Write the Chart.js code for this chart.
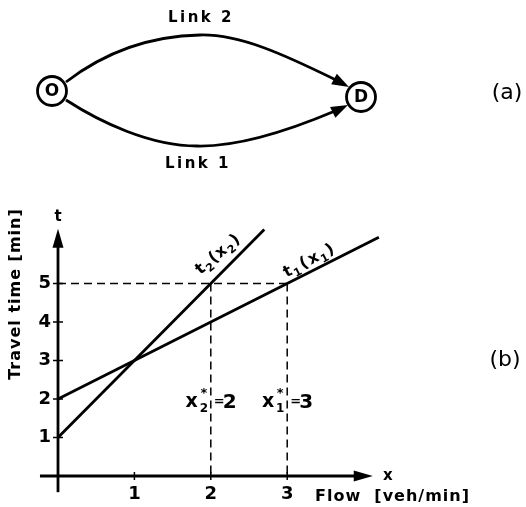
<!DOCTYPE html>
<html>
<head>
<meta charset="utf-8">
<script src="https://cdn.jsdelivr.net/npm/chart.js@4/dist/chart.umd.min.js"></script>
<style>
  html, body { margin: 0; padding: 0; background: #fff; }
  canvas { display: block; }
</style>
</head>
<body>
<canvas id="c" width="526" height="507"></canvas>
<script>
// Link cost functions: travel time t (min) against flow x (veh/min)
const flow1 = [0, 1, 2, 3, 4.2];
const time1 = [2, 3, 4, 5, 6.2];
const flow2 = [0, 1, 2, 2.7];
const time2 = [1, 3, 5, 6.4];

// Equilibrium: both links carry travel time 5 min
const eqFlow = [2, 3];          // x2*, x1*
const eqTime = 5;

// Axis ticks
const xTicks = [1, 2, 3];
const yTicks = [1, 2, 3, 4, 5];

// Two-link network
const nodes = ['O', 'D'];
const links = ['Link 1', 'Link 2'];

const FONT = '"DejaVu Sans", sans-serif';
const pts = (xs, ys) => xs.map((x, i) => ({ x, y: ys[i] }));

const solid = { borderColor: '#000', borderWidth: 2.8, pointRadius: 0, tension: 0, fill: false };
const dashed = { borderColor: '#000', borderWidth: 1.5, borderDash: [8, 5], pointRadius: 0, tension: 0, fill: false };

function arrowHead(ctx, x, y, ang, len, hw) {
  ctx.save();
  ctx.translate(x, y);
  ctx.rotate(ang);
  ctx.beginPath();
  ctx.moveTo(0, 0);
  ctx.lineTo(-len, -hw);
  ctx.lineTo(-len, hw);
  ctx.closePath();
  ctx.fill();
  ctx.restore();
}

// Draw a run of text pieces (for sub/superscripts) at (x, y), rotated by ang
function drawRuns(ctx, runs, x, y, ang, align) {
  ctx.save();
  ctx.translate(x, y);
  ctx.rotate(ang);
  ctx.textBaseline = 'alphabetic';
  ctx.textAlign = 'left';
  let total = 0;
  runs.forEach(r => { ctx.font = r.font; total += ctx.measureText(r.t).width + (r.gap || 0); });
  let cx = align === 'center' ? -total / 2 : (align === 'right' ? -total : 0);
  runs.forEach(r => {
    ctx.font = r.font;
    ctx.fillText(r.t, cx, r.dy || 0);
    cx += ctx.measureText(r.t).width + (r.gap || 0);
  });
  ctx.restore();
}

const decor = {
  id: 'decor',
  beforeDraw(chart) {
    const ctx = chart.ctx;
    ctx.save();
    ctx.fillStyle = '#fff';
    ctx.fillRect(0, 0, chart.width, chart.height);
    ctx.restore();
  },
  afterDraw(chart) {
    const ctx = chart.ctx;
    const X = v => chart.scales.x.getPixelForValue(v);
    const Y = v => chart.scales.y.getPixelForValue(v);
    ctx.save();
    ctx.strokeStyle = '#000';
    ctx.fillStyle = '#000';
    ctx.lineCap = 'butt';

    // axes with arrow heads
    ctx.lineWidth = 2.8;
    const xTip = X(4.12), yTip = Y(6.42);
    ctx.beginPath();
    ctx.moveTo(X(-0.236), Y(0));
    ctx.lineTo(xTip - 12, Y(0));
    ctx.stroke();
    arrowHead(ctx, xTip, Y(0), 0, 19, 5.5);
    ctx.beginPath();
    ctx.moveTo(X(0), Y(-0.42));
    ctx.lineTo(X(0), yTip + 12);
    ctx.stroke();
    arrowHead(ctx, X(0), yTip, -Math.PI / 2, 19, 5.5);

    // tick marks
    ctx.lineWidth = 1.5;
    xTicks.forEach(v => {
      ctx.beginPath(); ctx.moveTo(X(v), Y(0) - 4); ctx.lineTo(X(v), Y(0) + 4); ctx.stroke();
    });
    yTicks.forEach(v => {
      ctx.beginPath(); ctx.moveTo(X(0) - 5, Y(v)); ctx.lineTo(X(0) + 5, Y(v)); ctx.stroke();
    });

    // tick labels
    ctx.font = 'bold 18px ' + FONT;
    ctx.textAlign = 'center';
    ctx.textBaseline = 'middle';
    xTicks.forEach(v => ctx.fillText(String(v), X(v), Y(0) + 18));
    ctx.textAlign = 'right';
    yTicks.forEach(v => ctx.fillText(String(v), X(0) - 7, Y(v)));

    // axis names
    ctx.textAlign = 'center';
    ctx.font = 'bold 15px ' + FONT;
    ctx.fillText('t', X(0), yTip - 12);
    ctx.fillText('x', xTip + 15, Y(0));
    ctx.font = 'bold 16px ' + FONT;
    ctx.letterSpacing = '1px';
    ctx.textAlign = 'left';
    ctx.fillText('Flow  [veh/min]', 315, Y(0) + 21);
    ctx.save();
    ctx.translate(16, 294);
    ctx.rotate(-Math.PI / 2);
    ctx.textAlign = 'center';
    ctx.fillText('Travel time [min]', 0, 0);
    ctx.restore();
    ctx.letterSpacing = '0px';

    // curve labels
    const b16 = 'bold 16px ' + FONT, b11 = 'bold 11px ' + FONT;
    drawRuns(ctx, [
      { t: 't', font: b16, gap: 1 }, { t: '2', font: b11, dy: 4, gap: 1 },
      { t: '(', font: b16, gap: 1 }, { t: 'x', font: b16, gap: 1 },
      { t: '2', font: b11, dy: 4, gap: 1 }, { t: ')', font: b16 }
    ], X(2.13), Y(5.82) + 6, -0.70, 'center');
    drawRuns(ctx, [
      { t: 't', font: b16, gap: 1 }, { t: '1', font: b11, dy: 4, gap: 2 },
      { t: '(', font: b16, gap: 2 }, { t: 'x', font: b16, gap: 1 },
      { t: '1', font: b11, dy: 4, gap: 1 }, { t: ')', font: b16 }
    ], X(3.31), Y(5.64) + 6, -0.48, 'center');

    // equilibrium flow labels
    const subs = ['2', '1'];
    eqFlow.forEach((f, i) => {
      const px = X(f), py = Y(1.97);
      ctx.textBaseline = 'alphabetic';
      ctx.font = 'bold 19px ' + FONT;
      ctx.textAlign = 'right';
      ctx.fillText('x', px - 13, py + 7);
      ctx.textAlign = 'center';
      ctx.font = 'bold 13px ' + FONT;
      ctx.fillText('*', px - 7, py - 3);
      ctx.font = 'bold 12px ' + FONT;
      ctx.fillText(subs[i], px - 7, py + 12);
      ctx.font = 'bold 13px ' + FONT;
      ctx.textAlign = 'left';
      ctx.fillText('=', px + 3, py + 5);
      ctx.font = 'bold 20px ' + FONT;
      ctx.fillText(String(f), px + 12, py + 8);
    });

    // panel tags
    ctx.font = '22px ' + FONT;
    ctx.textAlign = 'center';
    ctx.textBaseline = 'middle';
    ctx.fillText('(a)', 507, 93);
    ctx.fillText('(b)', 505, 360);

    // network: nodes
    const nodePos = [[52, 91], [361, 97]];
    ctx.lineWidth = 2.8;
    nodePos.forEach(([nx, ny], i) => {
      ctx.beginPath(); ctx.arc(nx, ny, 14.5, 0, Math.PI * 2); ctx.stroke();
      ctx.font = 'bold 17px ' + FONT;
      ctx.fillText(nodes[i], nx, ny + 1);
    });

    // network: links
    ctx.lineWidth = 2.8;
    ctx.beginPath();
    ctx.moveTo(66, 82);
    ctx.bezierCurveTo(105, 52, 150, 36, 200, 35);
    ctx.bezierCurveTo(240, 34, 285, 55, 336, 80);
    ctx.stroke();
    arrowHead(ctx, 349, 87, Math.atan2(31, 58), 17, 6);
    ctx.beginPath();
    ctx.moveTo(66, 100);
    ctx.bezierCurveTo(100, 122, 150, 146, 197, 146);
    ctx.bezierCurveTo(240, 147, 290, 130, 335, 111);
    ctx.stroke();
    arrowHead(ctx, 348, 105, Math.atan2(-23, 47), 17, 6);

    ctx.font = 'bold 15px ' + FONT;
    ctx.letterSpacing = '2.5px';
    ctx.fillText(links[1], 201, 18);
    ctx.fillText(links[0], 198, 164);
    ctx.letterSpacing = '0px';
    ctx.restore();
  }
};

new Chart(document.getElementById('c'), {
  type: 'line',
  data: {
    datasets: [
      { label: 't1(x1)', data: pts(flow1, time1), ...solid },
      { label: 't2(x2)', data: pts(flow2, time2), ...solid },
      { label: 't = 5', data: [{ x: 0, y: eqTime }, { x: eqFlow[1], y: eqTime }], ...dashed },
      { label: 'x2*', data: [{ x: eqFlow[0], y: eqTime }, { x: eqFlow[0], y: 0 }], ...dashed },
      { label: 'x1*', data: [{ x: eqFlow[1], y: eqTime }, { x: eqFlow[1], y: 0 }], ...dashed }
    ]
  },
  options: {
    responsive: false,
    animation: false,
    layout: { padding: 0 },
    plugins: { legend: { display: false }, tooltip: { enabled: false } },
    scales: {
      x: { type: 'linear', display: false, min: -0.7592, max: 6.1257 },
      y: { type: 'linear', display: false, min: -0.805, max: 12.364 }
    }
  },
  plugins: [decor]
});
</script>
</body>
</html>
